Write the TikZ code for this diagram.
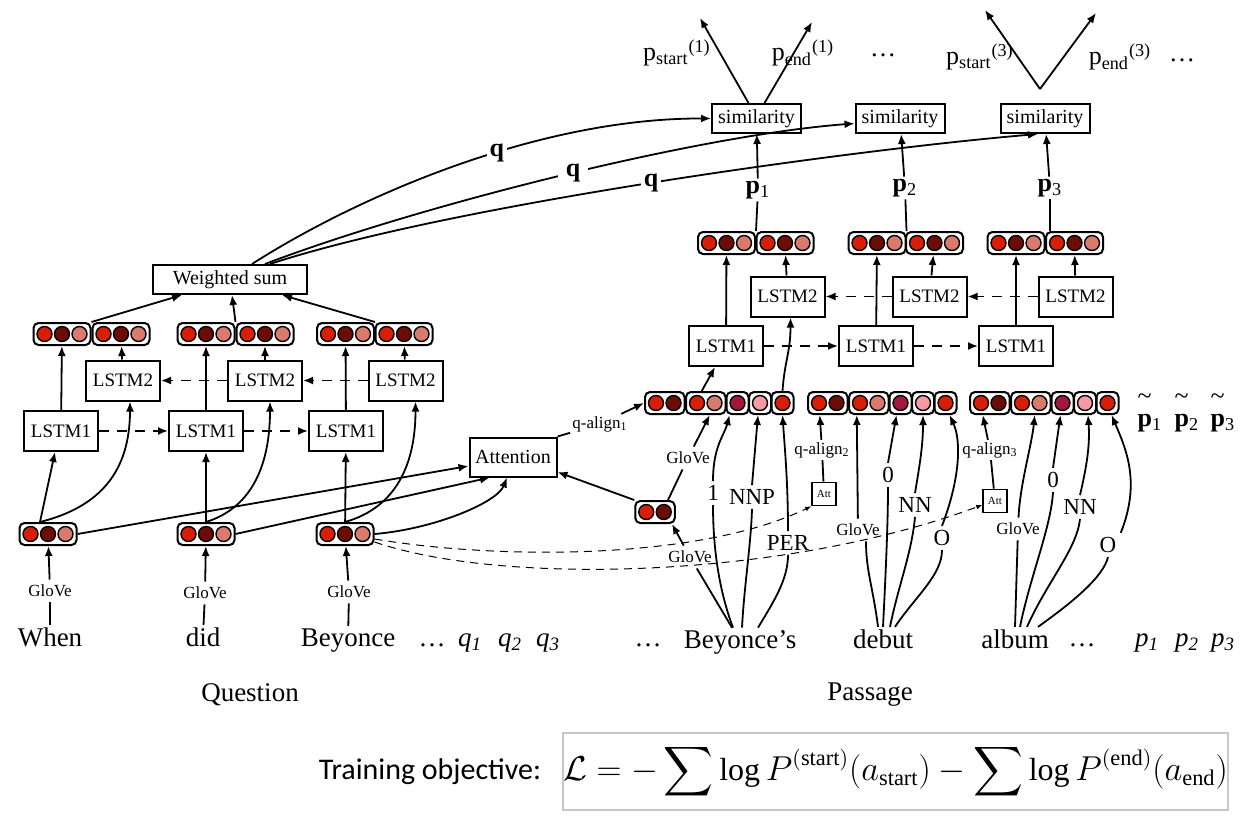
\documentclass[tikz,border=0pt]{standalone}
\usepackage{amsmath}
\usepackage{fontspec}
\setmainfont{Liberation Serif}
\newfontfamily\calfont{Carlito}
\usetikzlibrary{arrows.meta,fit,calc}
\definecolor{cR}{HTML}{D81E05}
\definecolor{cD}{HTML}{6B0C05}
\definecolor{cS}{HTML}{D97B6C}
\definecolor{cC}{HTML}{A3173E}
\definecolor{cP}{HTML}{F59AA3}
\newcommand\vg[5]{%
  \foreach \cc [count=\ii] in {#5} {\node[dot, fill=\cc] (#1-\ii) at ({#2+17.5*(\ii-1)}, #3) {};}
  \node[vframe, fit=(#1-1)(#1-#4)] (#1) {};
}
\begin{document}
\begin{tikzpicture}[x=0.5pt,y=-0.5pt,
  every node/.style={inner sep=1pt},
  dot/.style={circle, draw, line width=0.7pt, minimum size=7.5pt, inner sep=0pt},
  vframe/.style={draw, line width=1pt, rounded corners=2.5pt, inner sep=1.4pt},
  blk/.style={draw, line width=1pt, inner sep=0pt},
  lstm/.style={blk, minimum width=37pt, minimum height=20pt, font=\fontsize{9.5}{10}\selectfont},
  sim/.style={blk, minimum width=44.5pt, minimum height=14.5pt, font=\fontsize{10}{11}\selectfont},
  attbox/.style={blk, line width=0.8pt, minimum width=12pt, minimum height=11.5pt, font=\fontsize{5.5}{6}\selectfont},
  ln/.style={line width=0.9pt},
  arr/.style={ln, -{Latex[length=5pt,width=4pt]}},
  darr/.style={arr, dash pattern=on 5pt off 4pt},
  qdash/.style={line width=0.5pt, dash pattern=on 4pt off 3pt, -{Latex[length=3pt,width=2.5pt]}},
  wrd/.style={font=\fontsize{13.5}{15}\selectfont},
  glv/.style={font=\fontsize{8.5}{9}\selectfont, inner sep=2.5pt},
  feat/.style={font=\fontsize{11.5}{12}\selectfont, inner sep=2pt},
  lbl/.style={font=\fontsize{13}{14}\selectfont},
  qlab/.style={fill=white, inner sep=1.5pt, font=\fontsize{13}{14}\selectfont},
]
\useasboundingbox (0,0) rectangle (1241,836);

% ---------------- Question side ----------------
\node[wrd, anchor=base] (w1) at (50,646) {When};
\node[wrd, anchor=base] (w2) at (203,646) {did};
\node[wrd, anchor=base] (w3) at (348,646) {Beyonce};
\node[wrd, anchor=base] (qd) at (432,646) {…};
\node[wrd, anchor=base] (q1) at (470,646) {\textit{q}\textsubscript{\textit{1}}};
\node[wrd, anchor=base] (q2) at (510,646) {\textit{q}\textsubscript{\textit{2}}};
\node[wrd, anchor=base] (q3) at (548,646) {\textit{q}\textsubscript{\textit{3}}};
\node[wrd] (ques) at (250,695) {Question};

\node[glv] (g1) at (50,591) {GloVe};
\node[glv] (g2) at (205,593) {GloVe};
\node[glv] (g3) at (349,592) {GloVe};

\vg{e1}{30.5}{534}{3}{cR,cD,cS}
\vg{e2}{188.5}{534}{3}{cR,cD,cS}
\vg{e3}{327.5}{534}{3}{cR,cD,cS}

\draw[ln] (w1) -- (g1);
\draw[ln] (w2) -- (g2);
\draw[ln] (w3) -- (g3);
\draw[arr] (g1) -- (e1);
\draw[arr] (g2) -- (e2);
\draw[arr] (g3) -- (e3);

\node[lstm] (L1a) at (61,431) {LSTM1};
\node[lstm] (L1b) at (206,431) {LSTM1};
\node[lstm] (L1c) at (346,431) {LSTM1};
\node[lstm] (L2a) at (123,380.5) {LSTM2};
\node[lstm] (L2b) at (265,380.5) {LSTM2};
\node[lstm] (L2c) at (405.5,380.5) {LSTM2};

\vg{ta}{44.5}{334}{3}{cR,cD,cS}
\vg{tb}{103.5}{334}{3}{cR,cD,cS}
\vg{tc}{188.5}{334}{3}{cR,cD,cS}
\vg{td}{247.5}{334}{3}{cR,cD,cS}
\vg{te}{328}{334}{3}{cR,cD,cS}
\vg{tf}{386.5}{334}{3}{cR,cD,cS}

\draw[arr] ($(e1.north)+(-8,0)$) -- ($(L1a.south)+(-6,0)$);
\draw[arr] ($(e1.north)+(-8,0)$) .. controls +(60,-15) and +(0,70) .. ($(L2a.south)+(7,0)$);
\draw[arr] (e2) -- (L1b);
\draw[arr] (e2.north) .. controls +(48,-15) and +(0,60) .. ($(L2b.south)+(5,0)$);
\draw[arr] (e3) -- (L1c);
\draw[arr] (e3.north) .. controls +(53,-15) and +(0,60) .. ($(L2c.south)+(10,0)$);

\draw[darr] (L1a) -- (L1b);
\draw[darr] (L1b) -- (L1c);
\draw[darr] (L2c) -- (L2b);
\draw[darr] (L2b) -- (L2a);

\draw[arr] (L1a) -- (ta);
\draw[arr] (L2a) -- (tb);
\draw[arr] (L1b) -- (tc);
\draw[arr] (L2b) -- (td);
\draw[arr] (L1c) -- (te);
\draw[arr] (L2c) -- (tf);

\node[blk, minimum width=77pt, minimum height=14.5pt, font=\fontsize{10}{11}\selectfont] (WS) at (230,279.5) {Weighted sum};
\draw[arr] (ta.north east) -- ($(WS.south)+(-48,0)$);
\draw[arr] (tc.north east) -- ($(WS.south)+(2,0)$);
\draw[arr] (te.north east) -- ($(WS.south)+(52,0)$);

% ---------------- Similarity / outputs ----------------
\node[sim] (s1) at (756.5,118.5) {similarity};
\node[sim] (s2) at (900,118.5) {similarity};
\node[sim] (s3) at (1045,118.5) {similarity};

\draw[arr] ($(WS.north)+(22,0)$) .. controls (360,195) and (540,118) .. (s1.west) node[qlab, pos=0.58] {\textbf{q}};
\draw[arr] ($(WS.north)+(35,0)$) .. controls (420,205) and (700,135) .. ($(s2.west)+(0,5)$) node[qlab, pos=0.52, inner sep=4pt] {\textbf{q}};
\draw[arr] ($(WS.north)+(40,0)$) .. controls (450,205) and (850,150) .. ($(s3.south)+(-7,0)$) node[qlab, pos=0.5] {\textbf{q}};

\coordinate (t1a) at (700,18);
\coordinate (t1b) at (812,22);
\coordinate (v3) at (1040,89);
\coordinate (t3a) at (985,10);
\coordinate (t3b) at (1096,13);
\node[lbl] (ps1) at (677,53) {p\textsubscript{start}\textsuperscript{(1)}};
\node[lbl] (pe1) at (803,53) {p\textsubscript{end}\textsuperscript{(1)}};
\node[lbl] (dt1) at (883,55) {…};
\node[lbl] (ps3) at (980,57) {p\textsubscript{start}\textsuperscript{(3)}};
\node[lbl] (pe3) at (1120,57) {p\textsubscript{end}\textsuperscript{(3)}};
\node[lbl] (dt3) at (1182,60) {…};
\draw[arr] ($(s1.north)+(-8,0)$) -- (t1a);
\draw[arr] ($(s1.north)+(8,0)$) -- (t1b);
\draw[arr] (v3) -- (t3a);
\draw[arr] (v3) -- (t3b);

\node[lbl] (pp1) at (758,190) {\textbf{p}\textsubscript{1}};
\node[lbl] (pp2) at (905,188) {\textbf{p}\textsubscript{2}};
\node[lbl] (pp3) at (1050,188) {\textbf{p}\textsubscript{3}};
\draw[arr] (pp1) -- (s1);
\draw[arr] (pp2) -- (s2);
\draw[arr] (pp3) -- (s3);

% ---------------- Passage side ----------------
\vg{pa}{709}{243}{3}{cR,cD,cS}
\vg{pb}{767.5}{243}{3}{cR,cD,cS}
\vg{pc}{859.5}{243}{3}{cR,cD,cS}
\vg{pd}{917}{243}{3}{cR,cD,cS}
\vg{pe}{998.5}{243}{3}{cR,cD,cS}
\vg{pf}{1057}{243}{3}{cR,cD,cS}
\draw[ln] (pa.north east) -- (pp1);
\draw[ln] (pc.north east) -- (pp2);
\draw[ln] (pp3 |- pe.north) -- (pp3);

\node[lstm] (PL1a) at (726,346) {LSTM1};
\node[lstm] (PL1b) at (876,346) {LSTM1};
\node[lstm] (PL1c) at (1016,346) {LSTM1};
\node[lstm] (PL2a) at (787.5,296.5) {LSTM2};
\node[lstm] (PL2b) at (929.5,296.5) {LSTM2};
\node[lstm] (PL2c) at (1075.5,296.5) {LSTM2};
\draw[darr] (PL1a) -- (PL1b);
\draw[darr] (PL1b) -- (PL1c);
\draw[darr] (PL2c) -- (PL2b);
\draw[darr] (PL2b) -- (PL2a);
\draw[arr] (PL1a) -- (pa);
\draw[arr] (PL2a) -- (pb);
\draw[arr] (PL1b) -- (pc);
\draw[arr] (PL2b) -- (pd);
\draw[arr] (PL1c) -- (pe);
\draw[arr] (PL2c) -- (pf);

% input rows
\vg{r1a}{656}{403}{2}{cR,cD}
\vg{r1b}{697}{403}{2}{cR,cS}
\vg{r1c}{737.5}{403}{1}{cC}
\vg{r1d}{760}{403}{1}{cP}
\vg{r1e}{782.5}{403}{1}{cR}
\vg{r2a}{819}{403}{2}{cR,cD}
\vg{r2b}{860}{403}{2}{cR,cS}
\vg{r2c}{900.5}{403}{1}{cC}
\vg{r2d}{923}{403}{1}{cP}
\vg{r2e}{945.5}{403}{1}{cR}
\vg{r3a}{981}{403}{2}{cR,cD}
\vg{r3b}{1022}{403}{2}{cR,cS}
\vg{r3c}{1062.5}{403}{1}{cC}
\vg{r3d}{1085}{403}{1}{cP}
\vg{r3e}{1107.5}{403}{1}{cR}

\draw[arr] ($(r1b.north)+(-4,0)$) -- ($(PL1a.south)+(-11,0)$);
\draw[arr] (r1e.north) .. controls +(2,-30) and +(0,35) .. ($(PL2a.south)+(3,0)$);

\node[lbl] (pt1) at (1150,413) {\makebox[0pt][l]{\raisebox{0.85em}{\textasciitilde}}\textbf{p}\textsubscript{1}};
\node[lbl] (pt2) at (1187,413) {\makebox[0pt][l]{\raisebox{0.85em}{\textasciitilde}}\textbf{p}\textsubscript{2}};
\node[lbl] (pt3) at (1223,413) {\makebox[0pt][l]{\raisebox{0.85em}{\textasciitilde}}\textbf{p}\textsubscript{3}};

% attention
\node[blk, minimum width=43.5pt, minimum height=19.5pt, font=\fontsize{10}{11}\selectfont] (att) at (513,457) {Attention};
\node[glv, inner sep=1pt] (qa1) at (600,424) {q-align\textsubscript{1}};
\draw[ln] (att.north east) -- (qa1);
\draw[arr] (qa1) -- (r1a.west);
\draw[arr] (e1.east) -- ($(att.west)+(0,9)$);
\draw[arr] (e2.east) -- ($(att.south)+(-23,0)$);
\draw[arr] (e3.east) .. controls +(60,-5) and +(-10,25) .. ($(att.south)+(-6,0)$);

\vg{sv}{646.25}{512}{2}{cR,cD}
\draw[arr] (sv.north west) -- ($(att.east)+(0,15)$);

% passage words
\node[wrd, anchor=base] (pdl) at (648,646) {…};
\node[wrd, anchor=base] (B) at (740,648) {Beyonce’s};
\node[wrd, anchor=base] (D) at (883,648) {debut};
\node[wrd, anchor=base] (A) at (1015,648) {album};
\node[wrd, anchor=base] (pdr) at (1082,646) {…};
\node[wrd, anchor=base] (pw1) at (1147,646) {\textit{p}\textsubscript{\textit{1}}};
\node[wrd, anchor=base] (pw2) at (1187,646) {\textit{p}\textsubscript{\textit{2}}};
\node[wrd, anchor=base] (pw3) at (1223,646) {\textit{p}\textsubscript{\textit{3}}};
\node[wrd] (pass) at (870,695) {Passage};

% Beyonce's features
\node[glv] (ga) at (688,458) {GloVe};
\node[glv] (gb) at (690,557) {GloVe};
\draw[ln] ($(sv.north)+(13,0)$) -- (ga);
\draw[arr] (ga) -- ($(r1b.south)+(4,0)$);
\draw[arr] (gb) -- ($(sv.south)+(17,0)$);
\draw[ln] ($(B.north)+(-8,0)$) -- (gb);

\node[feat] (f1) at (713,493) {1};
\node[feat] (f2) at (752,497) {NNP};
\node[feat] (f3) at (788,543) {PER};
\draw[ln] ($(B.north)+(-7,0)$) .. controls +(-15,-40) and +(0,40) .. (f1.south);
\draw[arr] (f1.north) .. controls +(0,-35) and +(-5,20) .. ($(r1c.south)+(-8,0)$);
\draw[ln] ($(B.north)+(2,0)$) .. controls +(2,-40) and +(-1,35) .. (f2.south);
\draw[arr] (f2.north) -- ($(r1d.south)+(-2,0)$);
\draw[ln] ($(B.north)+(18,0)$) .. controls +(15,-25) and +(0,25) .. (f3.south);
\draw[arr] (f3.north) .. controls +(0,-50) and +(2,30) .. (r1e.south);

% debut features
\node[glv] (gc) at (858,530) {GloVe};
\node[feat] (f4) at (888,475) {0};
\node[feat] (f5) at (915,505) {NN};
\node[feat] (f6) at (942,538) {O};
\node[glv, inner sep=1pt] (qa2) at (822,450) {q-align\textsubscript{2}};
\node[attbox] (att2) at (824,494) {Att};
\draw[ln] (att2) -- (qa2);
\draw[arr] (qa2) -- ($(r2a.south)+(-8,0)$);
\draw[ln] ($(D.north)+(-5,0)$) .. controls +(-5,-40) and +(0,30) .. ($(gc.south)+(8,0)$);
\draw[arr] (gc) -- ($(r2b.south)+(-12,0)$);
\draw[ln] (D.north) .. controls +(2,-40) and +(0,40) .. (f4.south);
\draw[arr] (f4.north) -- ($(r2c.south)+(-4,0)$);
\draw[ln] ($(D.north)+(7,0)$) .. controls +(8,-40) and +(-3,35) .. (f5.south);
\draw[arr] (f5.north) .. controls +(5,-30) and +(0,30) .. (r2d.south);
\draw[ln] ($(D.north)+(12,0)$) .. controls +(20,-30) and +(0,25) .. (f6.south);
\draw[arr] (f6.north) .. controls +(18,-47) and +(12,26) .. ($(r2e.south)+(4,0)$);

% album features
\node[glv] (gd) at (1018,529) {GloVe};
\node[feat] (f7) at (1053,480) {0};
\node[feat] (f8) at (1080,507) {NN};
\node[feat] (f9) at (1108,545) {O};
\node[glv, inner sep=1pt] (qa3) at (990,450) {q-align\textsubscript{3}};
\node[attbox] (att3) at (995,501) {Att};
\draw[ln] (att3) -- (qa3);
\draw[arr] (qa3) -- ($(r3a.south)+(-7,0)$);
\draw[ln] (A.north) -- (gd);
\draw[arr] (gd) .. controls +(2,-45) and +(-3,30) .. ($(r3b.south)+(4,0)$);
\draw[ln] ($(A.north)+(5,0)$) .. controls +(10,-50) and +(-2,35) .. (f7.south);
\draw[arr] (f7.north) -- ($(r3c.south)+(-2,0)$);
\draw[ln] ($(A.north)+(12,0)$) .. controls +(20,-45) and +(-3,30) .. (f8.south);
\draw[arr] (f8.north) .. controls +(7,-30) and +(2,30) .. ($(r3d.south)+(3,0)$);
\draw[ln] ($(A.north)+(23,0)$) .. controls +(35,-25) and +(-5,20) .. (f9.south);
\draw[arr] (f9.north east) .. controls +(20,-50) and +(15,35) .. ($(r3e.south)+(4,0)$);

% dashed question-to-Att
\draw[qdash] ($(e3.east)+(0,5)$) .. controls (500,560) and (700,560) .. (att2.south west);
\draw[qdash] ($(e3.east)+(0,8)$) .. controls (500,585) and (780,580) .. ($(att3.west)+(0,4)$);

% ---------------- Training objective ----------------
\node[font=\calfont\fontsize{15}{18}\selectfont] (to) at (430,772) {Training objective:};
\node[draw=black!22, line width=0.6pt, minimum width=328.5pt, minimum height=38.5pt, inner sep=0pt, font=\fontsize{16}{18}\selectfont] (obj) at (895.5,771.5)
  {$\mathcal{L} = -\displaystyle\sum \log P^{(\text{start})}(a_{\text{start}}) - \sum \log P^{(\text{end})}(a_{\text{end}})$};
\end{tikzpicture}
\end{document}
